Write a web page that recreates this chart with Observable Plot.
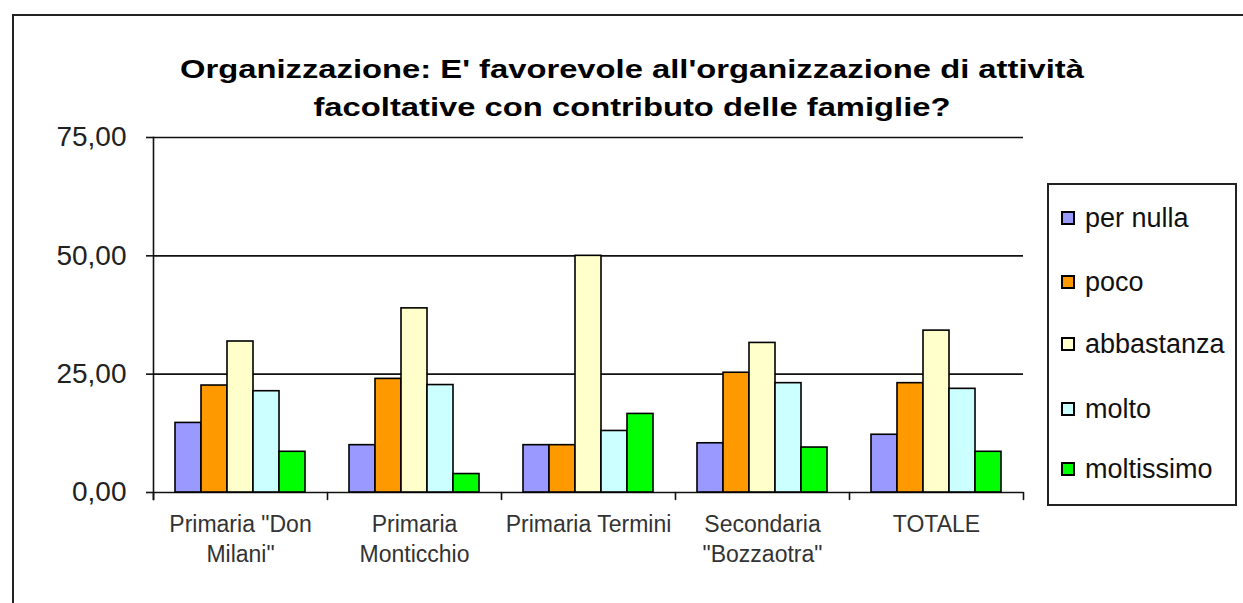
<!DOCTYPE html>
<html>
<head>
<meta charset="utf-8">
<script src="https://cdn.jsdelivr.net/npm/d3@7"></script>
<script src="https://cdn.jsdelivr.net/npm/@observablehq/plot@0.6"></script>
<style>
  html, body { margin: 0; padding: 0; background: #fff; }
  #wrap { position: relative; width: 1243px; height: 603px; overflow: hidden; font-family: "Liberation Sans", Arial, sans-serif; }
  #outer { position: absolute; left: 12px; top: 14px; width: 1300px; height: 700px; border: 2px solid #222; box-sizing: border-box; }
  #title { position: absolute; left: 12px; top: 50px; width: 1240px; text-align: center; font-weight: bold; font-size: 26px; line-height: 38px; color: #000; transform: scaleX(1.26); transform-origin: 620px 0; }
  #chart { position: absolute; left: 0; top: 0; }
  #legend { position: absolute; left: 1047px; top: 183px; width: 190px; height: 323px; border: 2px solid #222; box-sizing: border-box; background: #fff; }
  .item { position: absolute; left: 12px; height: 30px; display: flex; align-items: center; font-size: 27px; color: #111; white-space: nowrap; }
  .sw { width: 10px; height: 10px; border: 2px solid #000; margin-right: 10px; }
</style>
</head>
<body>
<div id="wrap">
  <div id="outer"></div>
  <div id="chart"></div>
  <div id="title">Organizzazione: E' favorevole all'organizzazione di attività<br>facoltative con contributo delle famiglie?</div>
  <div id="legend"></div>
</div>
<script>
const schools = ["Primaria \"Don Milani\"", "Primaria Monticchio", "Primaria Termini", "Secondaria \"Bozzaotra\"", "TOTALE"];
const schoolLabels = ["Primaria \"Don\nMilani\"", "Primaria\nMonticchio", "Primaria Termini", "Secondaria\n\"Bozzaotra\"", "TOTALE"];
const categories = ["per nulla", "poco", "abbastanza", "molto", "moltissimo"];
const colors = ["#9999FF", "#FF9900", "#FFFFCC", "#CCFFFF", "#00FF00"];
const perNulla   = [14.7, 10.0, 10.0, 10.4, 12.2];
const poco       = [22.6, 24.0, 10.0, 25.3, 23.1];
const abbastanza = [31.9, 38.9, 50.0, 31.6, 34.2];
const molto      = [21.4, 22.7, 13.0, 23.1, 21.9];
const moltissimo = [8.6, 3.9, 16.6, 9.5, 8.6];
const yTicks = [0, 25, 50, 75];

const series = [perNulla, poco, abbastanza, molto, moltissimo];
const data = [];
schools.forEach((s, i) => categories.forEach((c, j) => data.push({school: s, cat: c, value: series[j][i]})));
const labelOf = new Map(schools.map((s, i) => [s, schoolLabels[i]]));
const fmt = d => d.toFixed(2).replace(".", ",");

const plot = Plot.plot({
  width: 1243,
  height: 603,
  marginTop: 137,
  marginBottom: 111,
  marginLeft: 152,
  marginRight: 220,
  style: {fontFamily: "'Liberation Sans', Arial, sans-serif", background: "transparent", color: "#222", overflow: "visible"},
  fx: {domain: schools, padding: 0, axis: null, label: null},
  x: {domain: categories, paddingInner: 0, paddingOuter: 0.75, axis: null, label: null},
  y: {domain: [0, 75], axis: null, label: null},
  color: {domain: categories, range: colors},
  marks: [
    Plot.ruleY(yTicks, {stroke: "#111", strokeWidth: 1.6}),
    Plot.barY(data, {fx: "school", x: "cat", y: "value", fill: "cat", stroke: "#000", strokeWidth: 1.6}),
    Plot.frame({anchor: "left", fx: [schools[0]], stroke: "#111", strokeWidth: 1.6, insetBottom: -7}),
    Plot.vector(schools, {fx: d => d, frameAnchor: "bottom-left", anchor: "start", rotate: 180, length: 7, r: 0, stroke: "#111", strokeWidth: 1.6}),
    Plot.vector([schools[schools.length - 1]], {fx: d => d, frameAnchor: "bottom-right", anchor: "start", rotate: 180, length: 7, r: 0, stroke: "#111", strokeWidth: 1.6}),
    Plot.axisY({ticks: yTicks, tickFormat: fmt, tickSize: 7, tickPadding: 20, fontSize: 28, stroke: "#111", strokeWidth: 1.6, color: "#222", label: null}),
    Plot.axisFx({anchor: "bottom", tickSize: 0, tickPadding: 18, fontSize: 23, lineHeight: 1.3, tickFormat: d => labelOf.get(d), color: "#333", label: null})
  ]
});
document.getElementById("chart").appendChild(plot);

const legend = document.getElementById("legend");
const itemTops = [216, 280, 342, 407, 467];
categories.forEach((c, i) => {
  const it = document.createElement("div");
  it.className = "item";
  it.style.top = (itemTops[i] - 183 - 15) + "px";
  const sw = document.createElement("div");
  sw.className = "sw";
  sw.style.background = colors[i];
  it.appendChild(sw);
  it.appendChild(document.createTextNode(c));
  legend.appendChild(it);
});
</script>
</body>
</html>
